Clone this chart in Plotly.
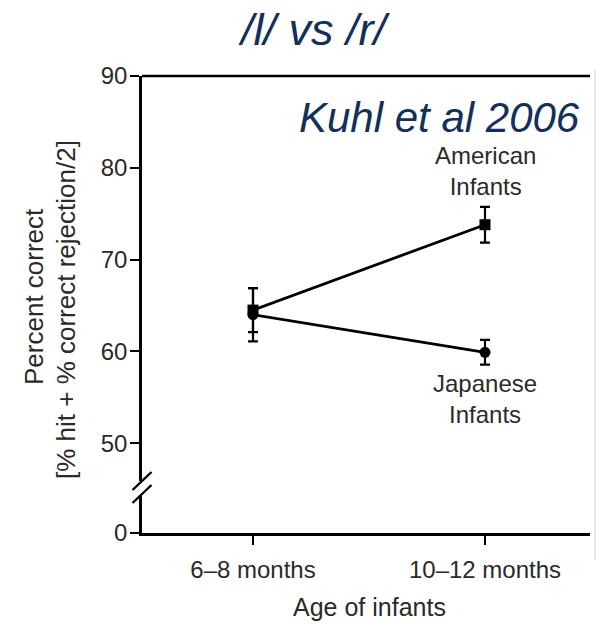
import plotly.graph_objects as go

# Age groups and group means (percent correct) with error bars
ages = ["6–8 months", "10–12 months"]
american = [64.5, 73.8]
american_err = [2.4, 1.95]
japanese = [64.0, 59.9]
japanese_err = [2.9, 1.35]

y_ticks = [50, 60, 70, 80, 90]
x_pos = list(range(len(ages)))

FONT = "Liberation Sans, Arial, Helvetica, sans-serif"
TEXT = "#2a2a2a"
NAVY = "#12305a"
W, H = 596, 624
L, R, T, B = 142, 6, 76, 91
PW, PH = W - L - R, H - T - B


def px_x(p):
    return (p - L) / PW


def px_y(p):
    return (H - B - p) / PH


fig = go.Figure()

fig.add_trace(go.Scatter(
    x=x_pos, y=american, name="American Infants",
    mode="lines+markers",
    line=dict(color="black", width=2.8),
    marker=dict(symbol="square", size=11, color="black"),
    error_y=dict(type="data", array=american_err, color="black", thickness=2.2, width=5),
))
fig.add_trace(go.Scatter(
    x=x_pos, y=japanese, name="Japanese Infants",
    mode="lines+markers",
    line=dict(color="black", width=2.8),
    marker=dict(symbol="circle", size=11, color="black"),
    error_y=dict(type="data", array=japanese_err, color="black", thickness=2.2, width=5),
))
# invisible trace on the lower (broken) segment so its axis is drawn
fig.add_trace(go.Scatter(x=[0], y=[0], yaxis="y2", mode="markers",
                         marker=dict(opacity=0), hoverinfo="skip"))

axis_common = dict(showline=True, linecolor="black", linewidth=2.6,
                   ticks="outside", ticklen=9, tickwidth=2.2, tickcolor="black",
                   showgrid=False, zeroline=False,
                   tickfont=dict(family=FONT, size=24, color=TEXT))

fig.update_layout(
    width=W, height=H,
    margin=dict(l=L, r=R, t=T, b=B),
    paper_bgcolor="white", plot_bgcolor="white",
    showlegend=False,
    xaxis=dict(range=[(L - 253) / 232, (W - R - 253) / 232],
               tickvals=x_pos, ticktext=ages, anchor="y2",
               ticklabelstandoff=4, **axis_common),
    yaxis=dict(domain=[px_y(481), 1],
               range=[90 - (481 - T) / 9.18, 90],
               tickvals=y_ticks, ticklabelstandoff=-2, **axis_common),
    yaxis2=dict(domain=[0, px_y(496)], range=[0, 10],
                tickvals=[0], ticklabelstandoff=-2, **axis_common),
)

shapes = [
    # top frame line
    dict(type="line", xref="paper", yref="paper", x0=0, x1=1, y0=1, y1=1,
         line=dict(color="black", width=2.6)),
    # axis-break slashes
    dict(type="line", xref="paper", yref="paper",
         x0=px_x(132.5), x1=px_x(151.5), y0=px_y(490), y1=px_y(472),
         line=dict(color="black", width=2.4)),
    dict(type="line", xref="paper", yref="paper",
         x0=px_x(132.5), x1=px_x(151.5), y0=px_y(503), y1=px_y(485),
         line=dict(color="black", width=2.4)),
    # thin border at the right edge
    dict(type="line", xref="paper", yref="paper",
         x0=px_x(595), x1=px_x(595), y0=px_y(560), y1=px_y(70),
         line=dict(color="#d0d0d0", width=1)),
]
fig.update_layout(shapes=shapes)

group_font = dict(family=FONT, size=24, color=TEXT)
ann = [
    dict(text="<i>/l/ vs /r/</i>", x=px_x(314), y=px_y(29),
         font=dict(family=FONT, size=45, color=NAVY)),
    dict(text="<i>Kuhl et al 2006</i>", x=px_x(581), y=px_y(117), xanchor="right",
         font=dict(family=FONT, size=42, color=NAVY)),
    dict(text="American<br>Infants", x=1, y=american[1] + 5.9, xref="x", yref="y",
         font=group_font),
    dict(text="Japanese<br>Infants", x=1, y=japanese[1] - 5.1, xref="x", yref="y",
         font=group_font),
    dict(text="Percent correct", textangle=-90, x=px_x(34), y=px_y(297),
         font=dict(family=FONT, size=26, color=TEXT)),
    dict(text="[% hit + % correct rejection/2]", textangle=-90, x=px_x(66), y=px_y(310),
         font=dict(family=FONT, size=26, color=TEXT)),
    dict(text="Age of infants", x=px_x(369), y=px_y(607),
         font=dict(family=FONT, size=25, color=TEXT)),
]
for a in ann:
    a.setdefault("xref", "paper")
    a.setdefault("yref", "paper")
    a.setdefault("xanchor", "center")
    a["yanchor"] = "middle"
    a["borderpad"] = 0
    a["showarrow"] = False
fig.update_layout(annotations=ann)

fig.write_html("out.html")
